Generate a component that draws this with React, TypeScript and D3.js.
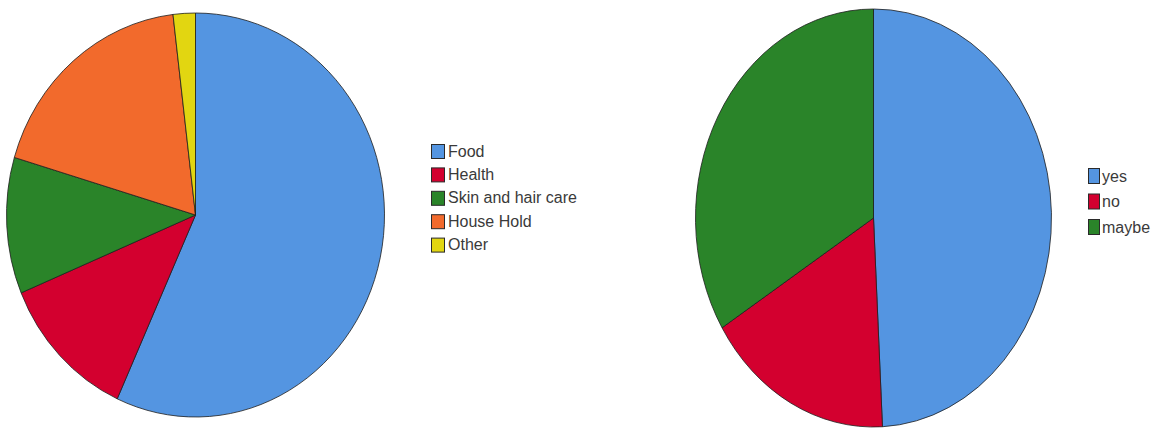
import React from "react";
import * as d3 from "d3";

const leftCategories = ["Food", "Health", "Skin and hair care", "House Hold", "Other"];
const leftValues = [56.8, 11.9, 10.9, 18.5, 1.9];
const leftColors = ["#5495e1", "#d3002f", "#2a8429", "#f26a2c", "#e2d611"];

const rightCategories = ["yes", "no", "maybe"];
const rightValues = [49.2, 17.0, 33.8];
const rightColors = ["#5495e1", "#d3002f", "#2a8429"];

type PieProps = {
  values: number[];
  colors: string[];
  cx: number;
  cy: number;
  rx: number;
  ry: number;
};

function EllipsePie({ values, colors, cx, cy, rx, ry }: PieProps) {
  const pie = d3.pie<number>().sort(null).value((d) => d);
  const arcs = pie(values);
  const arc = d3.arc<d3.PieArcDatum<number>>().innerRadius(0).outerRadius(ry);
  return (
    <g transform={`translate(${cx},${cy}) scale(${rx / ry},1)`}>
      {arcs.map((a, i) => (
        <path
          key={i}
          d={arc(a) || ""}
          fill={colors[i]}
          stroke="#1e1e1e"
          strokeWidth={0.8}
          strokeLinejoin="round"
          vectorEffect="non-scaling-stroke"
        />
      ))}
    </g>
  );
}

type LegendProps = {
  items: string[];
  colors: string[];
  x: number;
  y: number;
  step: number;
  sw: number;
  sh: number;
  gap: number;
};

function Legend({ items, colors, x, y, step, sw, sh, gap }: LegendProps) {
  return (
    <g>
      {items.map((t, i) => (
        <g key={t} transform={`translate(${x},${y + i * step})`}>
          <rect x={0.5} y={0.5} width={sw} height={sh} fill={colors[i]} stroke="#2a2a2a" strokeWidth={1} />
          <text
            x={sw + gap}
            y={sh - 1.5}
            fontFamily="'Liberation Sans', Arial, sans-serif"
            fontSize={16}
            fill="#3a3a3a"
          >
            {t}
          </text>
        </g>
      ))}
    </g>
  );
}

export default function App() {
  return (
    <div style={{ position: "absolute", left: 0, top: 0 }}>
      <svg width={1153} height={428} style={{ display: "block", background: "#ffffff" }}>
        <EllipsePie values={leftValues} colors={leftColors} cx={195.5} cy={215} rx={189} ry={202} />
        <Legend items={leftCategories} colors={leftColors} x={431} y={144} step={23.4} sw={13} sh={14} gap={4} />
        <EllipsePie values={rightValues} colors={rightColors} cx={873.5} cy={218} rx={178} ry={209} />
        <Legend items={rightCategories} colors={rightColors} x={1088} y={168} step={25.5} sw={11} sh={15} gap={3} />
      </svg>
    </div>
  );
}
